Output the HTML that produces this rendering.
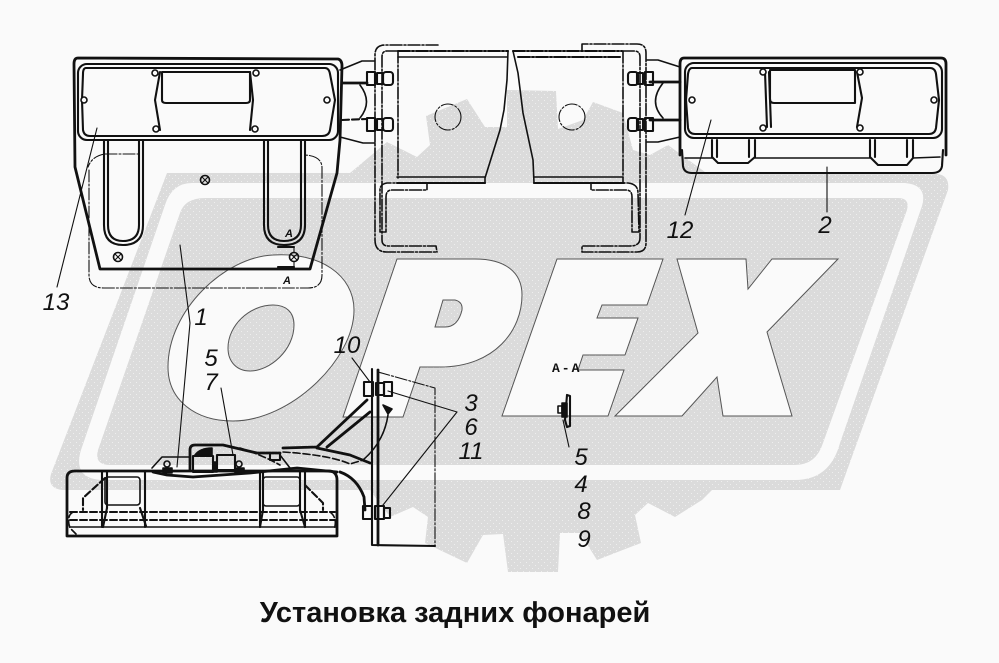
<!DOCTYPE html>
<html lang="ru">
<head>
<meta charset="utf-8">
<title>Установка задних фонарей</title>
<style>
html,body{margin:0;padding:0;background:#fafafa;width:999px;height:663px;overflow:hidden}
svg{display:block}
.l{font:italic 24px "Liberation Sans",sans-serif;fill:#111;text-anchor:middle}
.t{font:bold 29px "Liberation Sans","Noto Sans CJK SC",sans-serif;fill:#111;text-anchor:middle}
.a{font:bold 13px "Liberation Mono",monospace;fill:#111;letter-spacing:2px}
.s{font:italic bold 11px "Liberation Sans",sans-serif;fill:#111;text-anchor:middle}
g.d *{fill:none;stroke:#111;stroke-width:1.6;stroke-linejoin:round;stroke-linecap:round}
.k{stroke-width:2.8!important}
.m{stroke-width:2.1!important}
.n{stroke-width:1.1!important}
.dd{stroke-dasharray:12 2 2 2}
.da{stroke-dasharray:7 3}
.sc{fill:#fafafa!important}
.bk{fill:#111!important}
</style>
</head>
<body>
<svg width="999" height="663" viewBox="0 0 999 663" xmlns="http://www.w3.org/2000/svg">
<defs>
<pattern id="p" width="6" height="6" patternUnits="userSpaceOnUse">
<rect width="6" height="6" fill="#dbdbdb"/><rect x="1" y="1" width="1" height="1" fill="#eeeeee"/><rect x="4" y="4" width="1" height="1" fill="#eeeeee"/>
</pattern>
</defs>
<rect width="999" height="663" fill="#fafafa"/>
<!-- watermark gear + band -->
<path fill="url(#p)" d="M167 173 L350 173 L387 142 L417 157 L430 145 L426 116 L467 99 L485 127 L507 127 L507 90 L556 91 L558 129 L583 120 L593 102 L623 113 L633 150 L650 155 L668 145 L705 172 L938 174 Q950 176 948 190 L840 490 L712 490 L702 500 L675 517 L648 503 L635 515 L641 543 L597 560 L580 533 L560 533 L558 572 L508 572 L503 534 L483 535 L467 563 L425 543 L428 517 L413 507 L390 517 L370 490 L62 490 Q47 488 51 474 Z"/>
<path fill="#fafafa" d="M192 183 L905 183 Q928 185 922 206 L840 443 Q830 480 795 480 L105 480 Q72 480 81 450 L165 205 Q172 183 192 183 Z"/>
<path fill="url(#p)" d="M205 198 L898 198 Q910 198 907 210 L823 443 Q816 465 795 465 L110 465 Q94 465 98 450 L180 213 Q185 198 205 198 Z"/>
<g fill="#fafafa" stroke="#555" stroke-width="1">
<path d="M273 255 C320 252 354 275 354 310 C354 360 290 421 233 421 C195 421 168 400 168 367 C168 310 225 257 273 255 Z"/>
<path fill="url(#p)" d="M273 305 C286 305 294 312 294 325 C294 350 270 371 250 371 C237 371 228 362 228 348 C228 325 250 305 273 305 Z"/>
<path d="M397 259 L475 259 C505 259 522 272 522 295 C522 330 495 367 440 367 L420 367 L403 417 L343 417 Z"/>
<path fill="url(#p)" d="M443 300 L455 300 Q463 302 462 310 Q458 327 445 327 L435 327 Z"/>
<path d="M557 259 L663 259 L647 305 L602 305 L597 318 L638 318 L625 355 L583 355 L578 370 L624 370 L608 416 L502 416 Z"/>
<path d="M677 259 L746 259 L748 289 L772 259 L838 259 L767 332 L792 416 L723 416 L717 377 L682 416 L615 416 L698 333 Z"/>
</g>
<g class="d">
<!-- left lamp -->
<path class="k" d="M78 58 L338 59 Q342 60 342 66 L340 140 L337 173 L310 269 L100 269 L75 167 L74 64 Q74 58 78 58 Z"/>
<rect class="m" x="78" y="64" width="260" height="76" rx="9"/>
<path class="m" d="M86 68 L325 68 Q329 68 330 74 L335 100 L330 130 Q329 136 322 136 L90 136 Q84 136 83 130 L82 100 L83 74 Q83 68 86 68 Z"/>
<path class="m" d="M162 72 L250 72 L250 100 Q250 103 246 103 L166 103 Q162 103 162 100 Z"/>
<path class="m" d="M160 72 L155 100 L160 130 M250 72 L253 100 L250 130"/>
<g class="m">
<path class="m" d="M104 140 L104 225 Q104 245 123 245 Q143 245 143 225 L143 140"/>
<path class="m" d="M108 140 L108 225 Q108 241 123 241 Q139 241 139 225 L139 140"/>
<path class="m" d="M264 140 L264 225 Q264 245 284 245 Q305 245 305 225 L305 140"/>
<path class="m" d="M268 140 L268 225 Q268 241 284 241 Q301 241 301 225 L301 140"/>
</g>
<path class="n dd" d="M105 154 L140 154 M105 154 Q92 156 88 167 M89 170 L89 275 Q89 288 104 288 L308 288 Q322 288 322 275 L322 168 Q322 156 305 155"/>
<circle class="sc" cx="155" cy="73" r="3"/><circle class="sc" cx="256" cy="73" r="3"/><circle class="sc" cx="156" cy="129" r="3"/><circle class="sc" cx="255" cy="129" r="3"/><circle class="sc" cx="84" cy="100" r="3"/><circle class="sc" cx="327" cy="100" r="3"/>
<circle cx="205" cy="180" r="4.5"/><circle cx="118" cy="257" r="4.5"/><circle cx="294" cy="257" r="4.5"/>
<path class="n" d="M202 177 L208 183 M208 177 L202 183 M115 254 L121 260 M121 254 L115 260 M291 254 L297 260 M297 254 L291 260"/>
<path class="m" d="M278 247 L294 247 M278 267 L294 267"/>
<path class="n" d="M294 247 L294 252 M294 262 L294 267"/>
<!-- links left -->
<path d="M340 70 L362 61 L374 61 M340 137 L363 143 L375 143 M360 85 Q373 102 360 118"/>
<path class="k" d="M342 83 L367 83"/>
<path class="m da" d="M342 120 L367 119"/>
<!-- centre bracket -->
<path class="dd" d="M438 45 L385 45 Q375 45 375 55 L375 240 Q375 252 387 252 L437 252"/>
<path class="dd" d="M398 51 L387 51 Q382 51 382 57 L382 240 Q382 246 388 246 L436 246 L437 252"/>
<path class="m dd" d="M398 51 L508 51"/>
<path d="M398 57 L507 57"/>
<path class="dd" d="M398 51 L398 178"/>
<path d="M508 51 L507 80 L504 110 L500 130 L485 178 L485 183"/>
<path d="M397 177 L485 177"/>
<path class="m" d="M397 183 L485 183"/>
<path d="M513 51 L518 73 L523 113 L533 160 L534 183"/>
<path class="m dd" d="M513 51 L622 51"/>
<path class="m dd" d="M518 57 L622 57"/>
<path class="dd" d="M623 51 L623 183"/>
<path d="M534 177 L623 177"/>
<path class="m" d="M534 183 L624 183"/>
<circle class="dd n" cx="448" cy="117" r="13"/><circle class="dd n" cx="572" cy="117" r="13"/>
<path class="dd" d="M427 183 L387 183 Q380 184 380 190 L380 232 L386 232 L386 197 Q386 190 392 190 L427 190 Z"/>
<path class="dd" d="M591 183 L628 183 Q638 184 638 193 L639 232 L632 232 L632 197 Q632 190 626 190 L591 190 Z"/>
<path class="dd" d="M582 50 L582 44 L637 44 Q646 44 646 53 L646 243 Q646 252 637 252 L582 252 L582 246 L630 246 Q640 246 640 238 L640 57 Q640 51 634 51 L623 51"/>
<!-- bolts -->
<g>
<rect class="m" x="367" y="72" width="8" height="13"/><rect class="m" x="377" y="73" width="6" height="11"/><rect class="m" x="383" y="72" width="10" height="13" rx="3"/>
<rect class="m" x="367" y="118" width="8" height="13"/><rect class="m" x="377" y="119" width="6" height="11"/><rect class="m" x="383" y="118" width="10" height="13" rx="3"/>
<rect class="m" x="645" y="72" width="8" height="13"/><rect class="m" x="637" y="73" width="6" height="11"/><rect class="m" x="628" y="72" width="10" height="13" rx="3"/>
<rect class="m" x="645" y="118" width="8" height="13"/><rect class="m" x="637" y="119" width="6" height="11"/><rect class="m" x="628" y="118" width="10" height="13" rx="3"/>
</g>
<!-- links right -->
<path d="M647 60 L658 60 L680 67 M647 142 L658 142 L680 137 M663 83 Q648 102 663 118"/>
<path class="k" d="M650 82 L680 82 M650 120 L680 120"/>
<!-- right lamp -->
<path class="k" d="M684 58 L941 58 Q946 58 946 64 L946 155 M680 155 L680 64 Q680 58 684 58"/>
<path class="m" d="M682 150 L683 166 Q684 173 692 173 L932 173 Q941 173 942 166 L943 150"/>
<rect class="m" x="685" y="63" width="257" height="75" rx="9"/>
<path class="m" d="M692 68 L930 68 Q935 68 936 74 L939 100 L936 128 Q935 134 929 134 L695 134 Q689 134 688 128 L686 100 L688 74 Q689 68 692 68 Z"/>
<path class="m" d="M770 70 L855 70 L855 103 L774 103 Q770 103 770 99 Z"/>
<path class="m" d="M765 72 L767 127 M769 72 L771 127 M857 72 L862 98 L857 127"/>
<path class="m" d="M712 140 L712 157 L718 163 L748 163 L755 157 L755 140 M717 140 L717 157 M749 140 L749 157"/>
<path class="m" d="M870 140 L870 157 L878 165 L907 165 L913 158 L913 140 M875 140 L875 157 M907 140 L907 157"/>
<path d="M685 158 L712 158 M755 158 L870 158 M913 158 L940 157"/>
<circle class="sc" cx="763" cy="72" r="3"/><circle class="sc" cx="860" cy="72" r="3"/><circle class="sc" cx="763" cy="128" r="3"/><circle class="sc" cx="860" cy="128" r="3"/><circle class="sc" cx="692" cy="100" r="3"/><circle class="sc" cx="934" cy="100" r="3"/>
<!-- lower lamp -->
<path class="k" d="M67 536 L67 478 Q67 471 75 471 L330 471 Q337 472 337 480 L337 536 Z"/>
<path class="m" d="M102 471 L102 527 M107 471 L107 508 M145 471 L145 527 M260 471 L260 527 M263 471 L263 510 M300 471 L300 510 M305 471 L305 527"/>
<rect x="105" y="477" width="35" height="28" rx="3"/>
<rect x="263" y="477" width="37" height="29" rx="3"/>
<path class="m da" d="M70 512 L335 512 M70 520 L335 520"/>
<path d="M70 527 L335 527"/>
<path class="m da" d="M105 478 L83 498 L83 510 M305 485 L323 503 L323 510"/>
<path class="m" d="M107 508 L103 527 M140 508 L146 526 M263 510 L260 527 M300 510 L305 527"/>
<path class="da" d="M73 512 Q66 516 70 528 L76 534 M330 512 Q338 518 334 530"/>
<path class="k" d="M153 472 L167 475 L193 477 L250 473 L297 468 L337 472"/>
<path d="M152 468 L162 457 L190 457"/>
<path class="k" d="M190 470 L190 450 Q190 445 195 445 L223 445 L257 453 L280 453"/>
<rect class="m" x="193" y="456" width="20" height="16"/>
<path class="bk" d="M195 455 Q200 448 212 448 L212 455 Z"/>
<rect class="m" x="217" y="455" width="18" height="15"/>
<path class="bk" d="M163 468 h9 v5 h-9 Z M235 468 h9 v5 h-9 Z M213 462 h4 v10 h-4 Z"/>
<circle cx="167" cy="464" r="3"/><circle cx="239" cy="464" r="3"/>
<rect class="m" x="270" y="453" width="10" height="7"/>
<path class="k" d="M283 448 L317 447 L367 400 M327 447 L370 412 M317 448 L350 455 L370 463"/>
<path class="da" d="M240 448 Q262 455 280 465 M283 452 Q330 455 350 464 L363 460"/>
<path d="M280 455 L290 468"/>
<path class="k" d="M340 472 Q357 478 364 497 L365 510"/>
<path d="M388 415 Q384 442 363 460"/>
<path class="m" d="M372 369 L372 545 L435 546"/>
<path class="k" d="M378 370 L378 545"/>
<path class="n dd" d="M378 372 L435 388 L435 546"/>
<rect class="m" x="364" y="382" width="9" height="14"/><rect class="m" x="376" y="383" width="8" height="12"/><rect class="m" x="384" y="382" width="8" height="14"/>
<rect class="m" x="363" y="506" width="9" height="13"/><rect class="m" x="375" y="506" width="9" height="13"/><rect class="m" x="384" y="508" width="6" height="10"/>
<path class="bk" d="M383 405 L392 409 L388 414 Z"/>
<!-- A-A detail -->
<path class="m" d="M567 395 L565 420 L567 427 L570 426 L570 396 Z"/>
<path class="bk" d="M562 403 h5 v14 h-5 Z"/>
<rect x="558" y="406" width="4" height="7"/>
<!-- leaders -->
<path class="n" d="M97 128 L57 287 M180 245 L190 323 L177 467 M221 388 L233 455 M352 358 L370 382 M457 412 L388 391 M457 412 L383 505 M563 420 L569 447 M711 120 L685 215 M827 167 L827 212"/>
</g>
<text class="s" x="289" y="237">A</text>
<text class="s" x="287" y="284">A</text>
<text class="a" x="552" y="372">A-A</text>
<text class="l" x="56" y="310">13</text>
<text class="l" x="201" y="325">1</text>
<text class="l" x="211" y="366">5</text>
<text class="l" x="211" y="390">7</text>
<text class="l" x="347" y="353">10</text>
<text class="l" x="471" y="411">3</text>
<text class="l" x="471" y="435">6</text>
<text class="l" x="471" y="459">11</text>
<text class="l" x="581" y="465">5</text>
<text class="l" x="581" y="492">4</text>
<text class="l" x="584" y="519">8</text>
<text class="l" x="584" y="547">9</text>
<text class="l" x="680" y="238">12</text>
<text class="l" x="825" y="233">2</text>
<text class="t" x="455" y="622">Установка задних фонарей</text>
</svg>
</body>
</html>
